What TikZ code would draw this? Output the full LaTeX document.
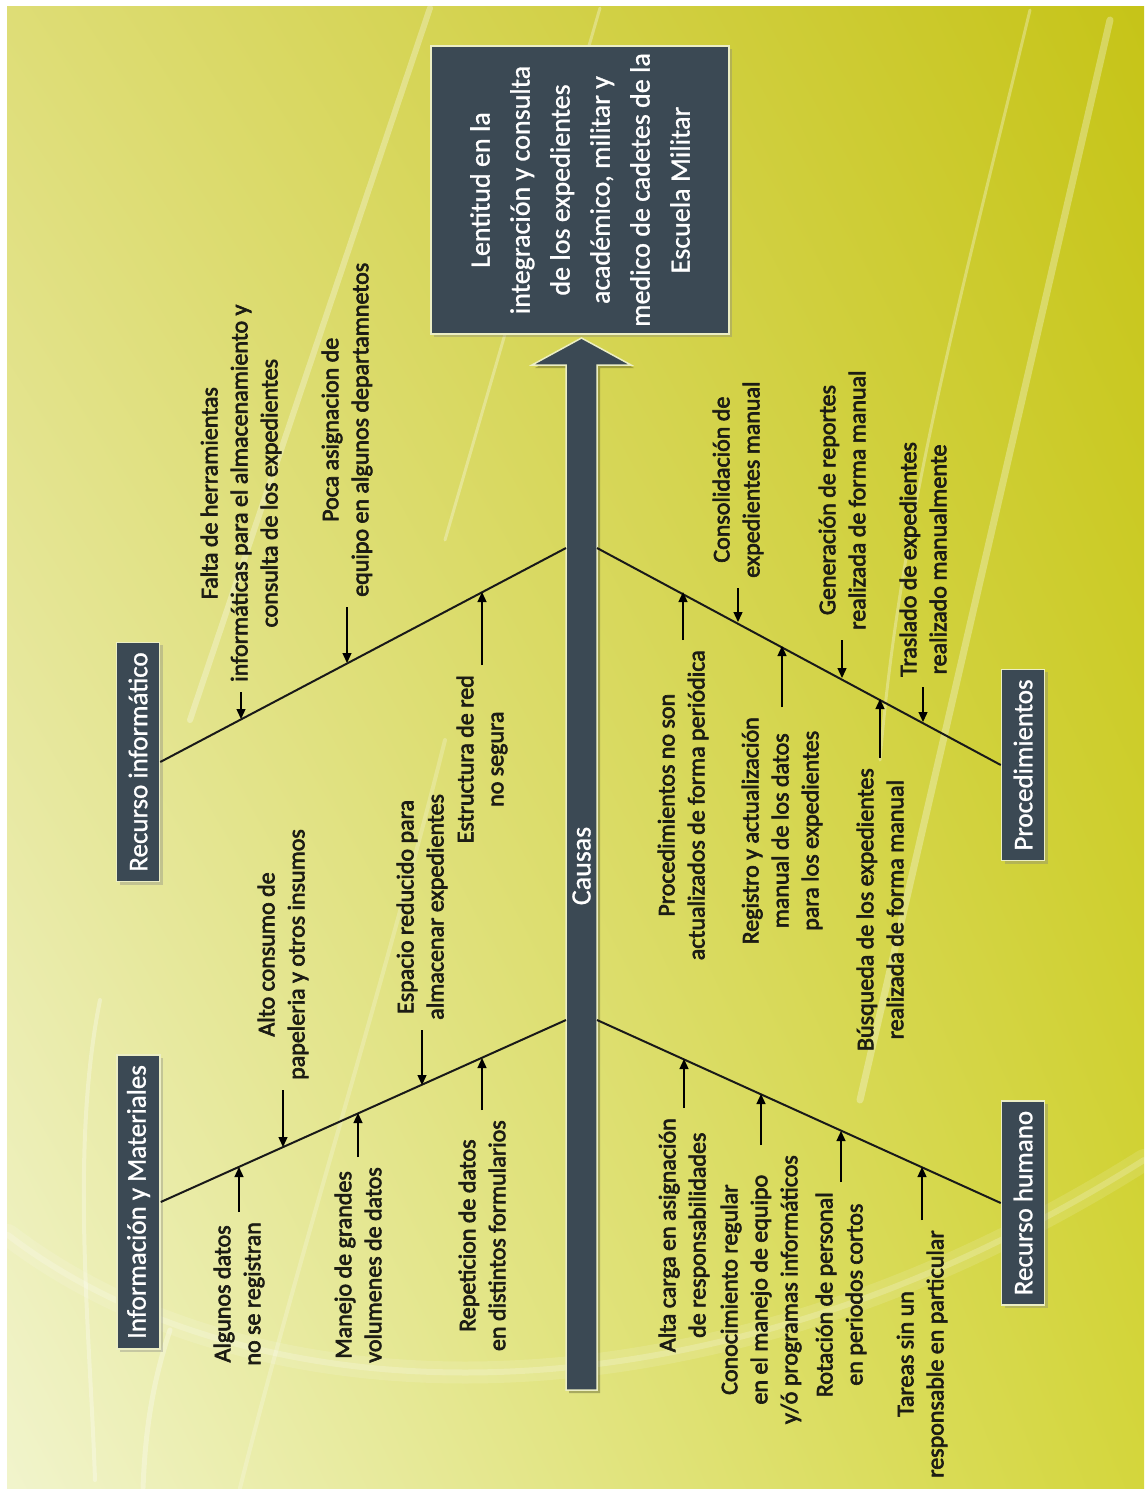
\documentclass[tikz,border=0pt]{standalone}
\usepackage{fontspec}
\setmainfont{Carlito}
\newfontfamily\lblfont{Carlito}[FakeBold=2.6]
\newfontfamily\boxfont{Carlito}[FakeBold=1]
\usetikzlibrary{arrows.meta,shadows,shadings}
\definecolor{slate}{RGB}{59,73,84}
\definecolor{boxedge}{RGB}{236,238,196}
\definecolor{labelc}{RGB}{28,28,20}
\definecolor{bgUL}{RGB}{222,221,118}
\definecolor{bgUR}{RGB}{198,196,24}
\definecolor{bgLL}{RGB}{241,244,204}
\definecolor{bgLR}{RGB}{212,214,60}
\begin{document}
\begin{tikzpicture}[x=1pt,y=-1pt,
  lbl/.style={rotate=90, align=center, text=labelc,
    font=\lblfont\fontsize{24}{30}\selectfont, inner xsep=10pt, inner ysep=1pt},
  catbox/.style={rotate=90, fill=slate, draw=boxedge, line width=1.5pt,
    text=white, font=\boxfont\fontsize{27}{32}\selectfont, minimum height=43pt,
    inner xsep=10pt, inner ysep=2pt,
    drop shadow={shadow xshift=3pt, shadow yshift=-3pt, opacity=0.35}},
  effbox/.style={rotate=90, fill=slate, draw=boxedge, line width=2pt,
    text=white, align=center, font=\boxfont\fontsize{28}{40}\selectfont,
    minimum width=288pt, minimum height=298pt,
    drop shadow={shadow xshift=3pt, shadow yshift=-3pt, opacity=0.35}},
  bone/.style={line width=2pt, black!90},
  cause/.style={-{Triangle[length=10pt,width=9pt]}, line width=1.3pt, black},
  streak/.style={white, opacity=0.3, line cap=round}]

\useasboundingbox (0,0) rectangle (1144,1490);
\fill[white] (0,0) rectangle (1144,1490);
\shade[upper left=bgUL, upper right=bgUR, lower left=bgLL, lower right=bgLR]
  (7,7) rectangle (1144,1488);

% soft light streaks in the background
\begin{scope}
\clip (7,7) rectangle (1144,1488);
\draw[streak, line width=6pt] (430,8) -- (190,720);
\draw[streak, line width=3pt] (600,8) -- (445,540);
\draw[streak, line width=7pt] (1110,20) -- (860,1100);
\draw[streak, line width=3pt] (1030,10) .. controls (960,300) and (900,520) .. (880,760);
\draw[streak, opacity=0.12, line width=22pt] (8,1235) .. controls (250,1420) and (700,1440) .. (1144,1160);
\draw[streak, opacity=0.2, line width=6pt] (8,1235) .. controls (250,1420) and (700,1440) .. (1144,1160);
\draw[streak, line width=4pt] (100,1000) .. controls (70,1150) and (90,1330) .. (95,1480);
\draw[streak, line width=5pt] (170,1330) .. controls (150,1390) and (145,1440) .. (143,1488);
\draw[streak, opacity=0.22, line width=4pt] (445,740) .. controls (380,1000) and (300,1250) .. (240,1488);
\end{scope}

% effect box
\node[effbox] (effect) at (580,190)
  {Lentitud en la\\integración y consulta\\de los expedientes\\académico, militar y\\medico de cadetes de la\\Escuela Militar};

% spine arrow
\fill[black, opacity=0.25] (569,1393) -- (569,368) -- (535,368) -- (584.5,341)
  -- (634,368) -- (600,368) -- (600,1393) -- cycle;
\filldraw[fill=slate, draw=boxedge, line width=1.5pt]
  (566,1390) -- (566,365) -- (532,365) -- (581.5,338) -- (631,365)
  -- (597,365) -- (597,1390) -- cycle;
\node[rotate=90, text=white, font=\boxfont\fontsize{28}{32}\selectfont] (causas) at (581.5,866) {Causas};

\coordinate (sRI) at (566,548);
\coordinate (sIM) at (566,1020);
\coordinate (sPR) at (597,548);
\coordinate (sRH) at (597,1020);

% category boxes
\node[catbox] (ri) at (138,762) {Recurso informático};
\node[catbox] (im) at (138.5,1202) {Información y Materiales};
\node[catbox] (pr) at (1023,765) {Procedimientos};
\node[catbox] (rh) at (1023,1203) {Recurso humano};

% bones
\draw[bone] (ri.south) -- (sRI);
\draw[bone] (im.south) -- (sIM);
\draw[bone] (pr.north) -- (sPR);
\draw[bone] (rh.north) -- (sRH);

% points where the causes meet the bones
\coordinate (tFal) at (241,719);
\coordinate (tPoc) at (347,663);
\coordinate (tEst) at (482,592);
\coordinate (tAlg) at (239,1167);
\coordinate (tAlt) at (283,1147);
\coordinate (tMan) at (358,1113);
\coordinate (tEsp) at (422,1085);
\coordinate (tRep) at (482,1058);
\coordinate (tPro) at (683,592);
\coordinate (tCon) at (738,622);
\coordinate (tReg) at (782,646);
\coordinate (tGen) at (842,678);
\coordinate (tBus) at (880,699);
\coordinate (tTra) at (923,722);
\coordinate (tAlc) at (684,1059);
\coordinate (tCno) at (761,1094);
\coordinate (tRot) at (841,1131);
\coordinate (tTar) at (922,1167);

% Recurso informático
\node[lbl, anchor=west] (fal) at (241,692)
  {Falta de herramientas\\informáticas para el almacenamiento y\\consulta de los expedientes};
\node[lbl, anchor=west] (poc) at (347,607)
  {Poca asignacion de\\equipo en algunos departamnetos};
\node[lbl, anchor=east] (est) at (482,665) {Estructura de red\\no segura};

% Información y Materiales
\node[lbl, anchor=east] (alg) at (239,1212) {Algunos datos\\no se registran};
\node[lbl, anchor=west] (alt) at (283,1090) {Alto consumo de\\papeleria y otros insumos};
\node[lbl, anchor=east] (man) at (358,1157) {Manejo de grandes\\volumenes de datos};
\node[lbl, anchor=west] (esp) at (422,1030) {Espacio reducido para\\almacenar expedientes};
\node[lbl, anchor=east] (rep) at (482,1110) {Repeticion de datos\\en distintos formularios};

% Procedimientos
\node[lbl, anchor=east] (pro) at (683,640) {Procedimientos no son\\actualizados de forma periódica};
\node[lbl, anchor=west] (con) at (738,588) {Consolidación de\\expedientes manual};
\node[lbl, anchor=east] (reg) at (782,707) {Registro y actualización\\manual de los datos\\para los expedientes};
\node[lbl, anchor=west] (gen) at (842,640) {Generación de reportes\\realizada de forma manual};
\node[lbl, anchor=east] (bus) at (880,758) {Búsqueda de los expedientes\\realizada de forma manual};
\node[lbl, anchor=west] (tra) at (923,687) {Traslado de expedientes\\realizado manualmente};

% Recurso humano
\node[lbl, anchor=east] (alc) at (684,1108) {Alta carga en asignación\\de responsabilidades};
\node[lbl, anchor=east] (cno) at (761,1145) {Conocimiento regular\\en el manejo de equipo\\y/ó programas informáticos};
\node[lbl, anchor=east] (rot) at (841,1182) {Rotación de personal\\en periodos cortos};
\node[lbl, anchor=east] (tar) at (922,1220) {Tareas sin un\\responsable en particular};

% cause arrows
\draw[cause] (fal.west) -- (tFal);
\draw[cause] (poc.west) -- (tPoc);
\draw[cause] (est.east) -- (tEst);
\draw[cause] (alg.east) -- (tAlg);
\draw[cause] (alt.west) -- (tAlt);
\draw[cause] (man.east) -- (tMan);
\draw[cause] (esp.west) -- (tEsp);
\draw[cause] (rep.east) -- (tRep);
\draw[cause] (pro.east) -- (tPro);
\draw[cause] (con.west) -- (tCon);
\draw[cause] (reg.east) -- (tReg);
\draw[cause] (gen.west) -- (tGen);
\draw[cause] (bus.east) -- (tBus);
\draw[cause] (tra.west) -- (tTra);
\draw[cause] (alc.east) -- (tAlc);
\draw[cause] (cno.east) -- (tCno);
\draw[cause] (rot.east) -- (tRot);
\draw[cause] (tar.east) -- (tTar);
\end{tikzpicture}
\end{document}
